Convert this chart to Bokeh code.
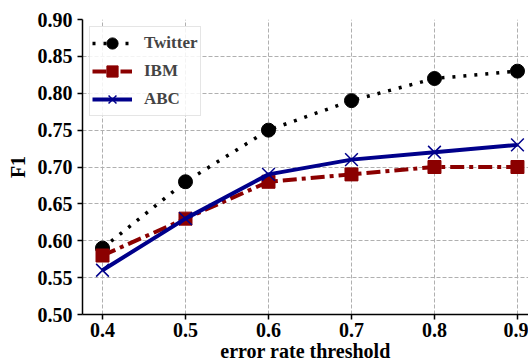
from bokeh.plotting import figure
from bokeh.models import Range1d, FixedTicker, NumeralTickFormatter, Legend
from bokeh.embed import file_html
from bokeh.resources import INLINE

thresholds = [0.4, 0.5, 0.6, 0.7, 0.8, 0.9]
twitter = [0.59, 0.68, 0.75, 0.79, 0.82, 0.83]
ibm = [0.58, 0.63, 0.68, 0.69, 0.70, 0.70]
abc = [0.56, 0.63, 0.69, 0.71, 0.72, 0.73]
x_ticks = [0.4, 0.5, 0.6, 0.7, 0.8, 0.9]
y_ticks = [0.50, 0.55, 0.60, 0.65, 0.70, 0.75, 0.80, 0.85, 0.90]

FONT = "Liberation Serif"

p = figure(width=528, height=364, output_backend="svg", toolbar_location=None,
           x_range=Range1d(0.3759, 0.9133), y_range=Range1d(0.50, 0.90),
           min_border_left=82, min_border_top=19, min_border_right=0, min_border_bottom=40)
p.outline_line_color = None
p.background_fill_color = "white"
p.border_fill_color = "white"

# grid
for g in (p.xgrid, p.ygrid):
    g.grid_line_color = "#b0b0b0"
    g.grid_line_dash = "4 2"
    g.grid_line_width = 1

# series
r1 = p.line(thresholds, twitter, line_color="black", line_width=3.5, line_dash="3 8")
s1 = p.scatter(thresholds, twitter, marker="circle", size=14, fill_color="black", line_color="black")
r2 = p.line(thresholds, ibm, line_color="#8B0000", line_width=4, line_dash="14 5 4 5")
s2 = p.scatter(thresholds, ibm, marker="square", size=13, fill_color="#8B0000", line_color="#8B0000")
r3 = p.line(thresholds, abc, line_color="#00008B", line_width=4)
s3 = p.scatter(thresholds, abc, marker="x", size=18, line_color="#00008B", line_width=1.5)

legend = Legend(items=[("Twitter", [r1, s1]), ("IBM", [r2, s2]), ("ABC", [r3, s3])],
                location="top_left")
legend.margin = 7
legend.padding = 2
legend.spacing = -5
legend.glyph_width = 40
legend.glyph_height = 28
legend.label_standoff = 12
legend.label_text_font = FONT
legend.label_text_font_style = "bold"
legend.label_text_font_size = "17px"
legend.border_line_color = "#cccccc"
legend.border_line_width = 1
legend.background_fill_alpha = 0.85
p.add_layout(legend)

# axes
p.xaxis.ticker = FixedTicker(ticks=x_ticks)
p.yaxis.ticker = FixedTicker(ticks=y_ticks)
p.xaxis.formatter = NumeralTickFormatter(format="0.0")
p.yaxis.formatter = NumeralTickFormatter(format="0.00")
p.xaxis.axis_label = "error rate threshold"
p.yaxis.axis_label = "F1"
for ax in (p.xaxis, p.yaxis):
    ax.axis_line_color = "black"
    ax.axis_line_width = 1.5
    ax.major_tick_line_color = "black"
    ax.major_tick_line_width = 1.5
    ax.major_tick_out = 5
    ax.major_tick_in = 0
    ax.minor_tick_line_color = None
    ax.major_label_text_font = FONT
    ax.major_label_text_font_style = "bold"
    ax.major_label_text_font_size = "20px"
    ax.major_label_text_color = "black"
    ax.axis_label_text_font = FONT
    ax.axis_label_text_font_style = "bold"
    ax.axis_label_text_font_size = "20px"
    ax.axis_label_text_color = "black"
p.xaxis.major_label_standoff = 3
p.xaxis.axis_label_standoff = 0
p.yaxis.major_label_standoff = 5
p.yaxis.axis_label_standoff = 6

open("out.html", "w").write(file_html(p, INLINE))
